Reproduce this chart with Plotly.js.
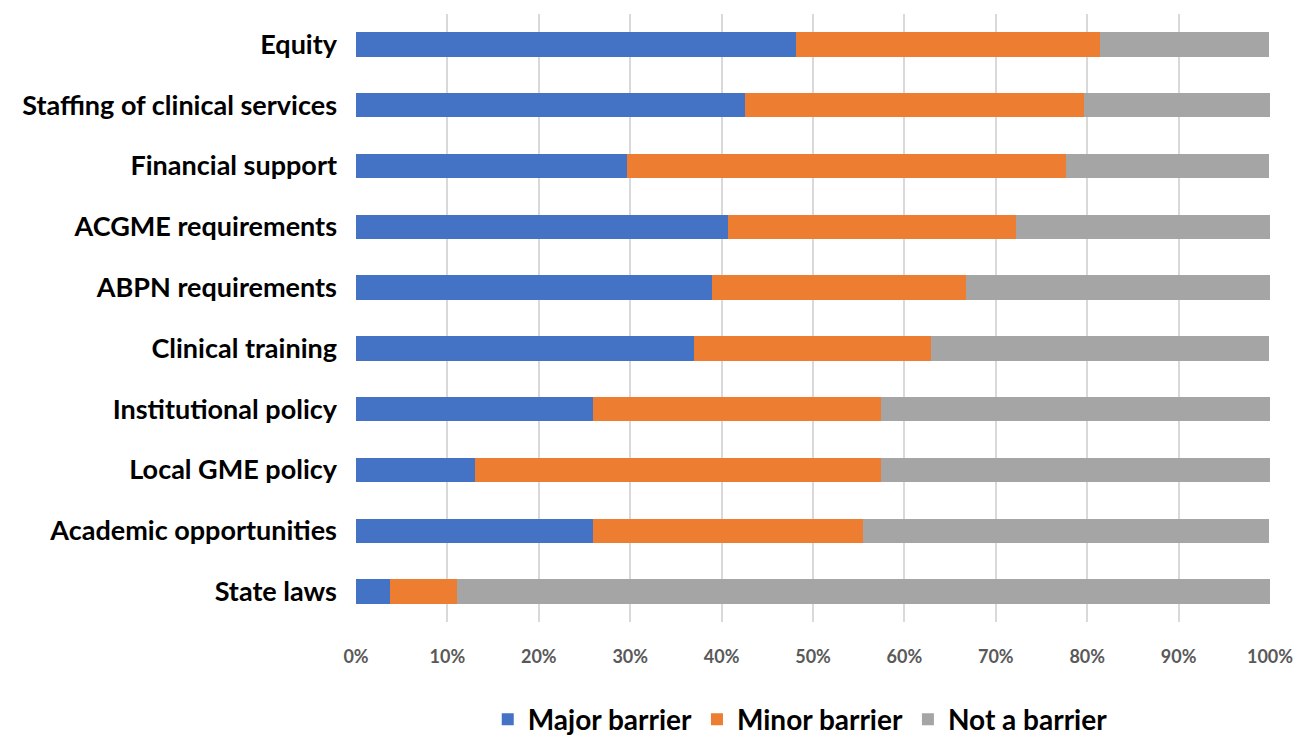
<!DOCTYPE html>
<html>
<head>
<meta charset="utf-8">
<script src="https://cdn.plot.ly/plotly-3.0.1.min.js"></script>
<style>html,body{margin:0;padding:0;background:#fff;}#chart{width:1297px;height:735px;}</style>
</head>
<body>
<div id="chart"></div>
<script>
const categories = ["Equity", "Staffing of clinical services", "Financial support", "ACGME requirements", "ABPN requirements", "Clinical training", "Institutional policy", "Local GME policy", "Academic opportunities", "State laws"];
const majorBarrier = [48.1, 42.6, 29.6, 40.7, 38.9, 37.0, 25.9, 13.0, 25.9, 3.7];
const minorBarrier = [33.3, 37.0, 48.1, 31.5, 27.8, 25.9, 31.5, 44.4, 29.6, 7.4];
const notBarrier = [18.5, 20.4, 22.2, 27.8, 33.3, 37.0, 42.6, 42.6, 44.4, 88.9];
const xTicks = [0, 10, 20, 30, 40, 50, 60, 70, 80, 90, 100];

function trace(name, vals, color) {
  return {type: 'bar', orientation: 'h', name: name, x: vals, y: categories,
    marker: {color: color, line: {width: 0}}, hoverinfo: 'x+y'};
}
const data = [
  trace('Major barrier', majorBarrier, '#4472C4'),
  trace('Minor barrier', minorBarrier, '#ED7D31'),
  trace('Not a barrier', notBarrier, '#A5A5A5')
];
const layout = {
  width: 1297, height: 735,
  margin: {l: 356, r: 27, t: 14, b: 113},
  barmode: 'stack', bargap: 0.6,
  paper_bgcolor: '#fff', plot_bgcolor: '#fff',
  font: {family: 'Lato, "Open Sans", sans-serif', color: '#000'},
  xaxis: {range: [0, 100], tickvals: xTicks, ticktext: xTicks.map(v => v + '%'),
    showgrid: true, gridcolor: '#D9D9D9', gridwidth: 2, zeroline: false,
    showline: false, ticks: '', ticklen: 0, ticklabelstandoff: 22,
    tickfont: {size: 18, color: '#595959', family: 'Lato, sans-serif', weight: 'bold'},
    fixedrange: true, automargin: false},
  yaxis: {autorange: 'reversed', showgrid: false, zeroline: false, showline: false,
    ticks: '', ticklabelstandoff: 18, automargin: false,
    tickfont: {size: 27, color: '#000', family: 'Lato, sans-serif', weight: 'bold'}},
  legend: {orientation: 'h', xref: 'container', yref: 'container',
    x: 0.617, xanchor: 'center', y: 0.021, yanchor: 'middle',
    font: {size: 28, color: '#000', family: 'Lato, sans-serif', weight: 'bold'},
    itemwidth: 30, traceorder: 'normal'},
  showlegend: true
};
Plotly.newPlot('chart', data, layout, {displayModeBar: false, staticPlot: true});
</script>
</body>
</html>
